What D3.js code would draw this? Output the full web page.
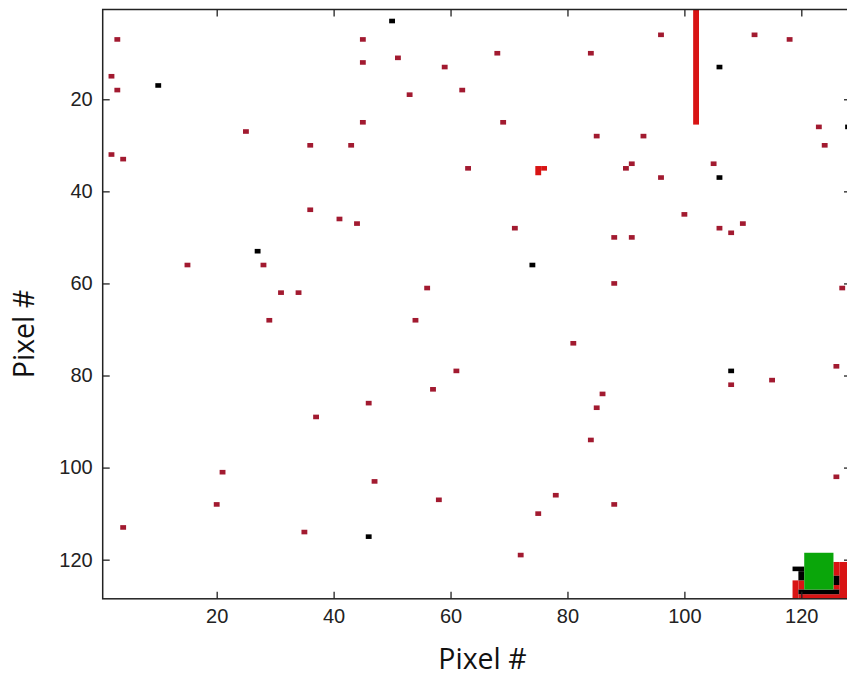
<!DOCTYPE html>
<html>
<head>
<meta charset="utf-8">
<script src="https://cdn.jsdelivr.net/npm/d3@7"></script>
<style>
  html, body { margin: 0; padding: 0; background: #fff; }
  svg { display: block; }
  .tick text { font-family: "Liberation Sans", Arial, sans-serif; font-size: 20px; fill: #222; }
  .axis-title { font-family: "Open Sans", "Noto Sans", sans-serif; font-size: 28.5px; fill: #111; }
</style>
</head>
<body>
<svg id="chart" width="847" height="677"></svg>
<script>
// Pixel map of a 128 x 128 detector frame, one entry per flagged pixel [column, row].
const gridSize = 128;
const xTicks = [20, 40, 60, 80, 100, 120];
const yTicks = [20, 40, 60, 80, 100, 120];

// isolated flagged pixels (dark red)
const hotPixels = [
  [3,7],[2,15],[3,18],[25,27],[2,32],[4,33],
  [45,7],[45,12],[51,11],[59,13],[68,10],[84,10],[53,19],[62,18],[45,25],[69,25],[85,28],[36,30],[43,30],[63,35],
  [96,6],[112,6],[118,7],[123,26],[124,30],[93,28],[91,34],[90,35],[96,37],[105,34],
  [15,56],[28,56],[31,62],[34,62],[29,68],
  [36,44],[41,46],[44,47],[71,48],[56,61],[54,68],[81,73],[61,79],[57,83],[86,84],[46,86],
  [100,45],[88,50],[91,50],[106,48],[108,49],[110,47],[88,60],[127,61],[108,82],[115,81],[126,78],
  [21,101],[20,108],[4,113],[35,114],
  [37,89],[85,87],[84,94],[47,103],[58,107],[75,110],[78,106],[72,119],
  [88,108],[126,102]
];

// dead pixels (black)
const deadPixels = [
  [10,17],[50,3],[106,13],[106,37],[128,26],[27,53],[74,56],[108,79],[46,115]
];

// pixel blocks [x0, x1, y0, y1], inclusive
const brightBlocks = [
  [102,102,1,25],[75,75,35,36],[76,76,35,35],
  [119,119,125,128],[120,120,125,126],[120,128,128,128],
  [126,126,121,123],[126,126,126,126],[127,128,121,128]
];
const darkBlocks = [
  [119,120,122,122],[120,120,123,124],[120,126,127,127],[126,126,124,125]
];
const greenBlocks = [
  [121,125,119,126]
];

const svg = d3.select("#chart");
const plotLeft = 102.7, plotRight = 851, plotTop = 9.5, plotBottom = 598.8;

const x = d3.scaleLinear().domain([0.5, gridSize + 0.5]).range([plotLeft, plotRight]);
const y = d3.scaleLinear().domain([0.5, gridSize + 0.5]).range([plotTop, plotBottom]);

const plot = svg.append("g");

function drawPixels(list, color) {
  plot.selectAll(null).data(list).enter().append("rect")
    .attr("x", d => x(d[0] - 0.5))
    .attr("y", d => y(d[1] - 0.5))
    .attr("width", d => x(d[0] + 0.5) - x(d[0] - 0.5))
    .attr("height", d => y(d[1] + 0.5) - y(d[1] - 0.5))
    .attr("fill", color);
}
function drawBlocks(list, color) {
  plot.selectAll(null).data(list).enter().append("rect")
    .attr("x", d => x(d[0] - 0.5))
    .attr("y", d => y(d[2] - 0.5))
    .attr("width", d => x(d[1] + 0.5) - x(d[0] - 0.5))
    .attr("height", d => y(d[3] + 0.5) - y(d[2] - 0.5))
    .attr("fill", color);
}

drawPixels(hotPixels, "#a21a30");
drawPixels(deadPixels, "#000");
drawBlocks(brightBlocks, "#d81414");
drawBlocks(darkBlocks, "#000");
drawBlocks(greenBlocks, "#0aa60a");

// axes on all four sides, ticks pointing inward
const tickLen = 7;
const axisColor = "#222";

const gB = svg.append("g").attr("transform", `translate(0,${plotBottom})`)
  .call(d3.axisBottom(x).tickValues(xTicks).tickSizeInner(-tickLen).tickSizeOuter(0).tickPadding(10));
const gT = svg.append("g").attr("transform", `translate(0,${plotTop})`)
  .call(d3.axisTop(x).tickValues(xTicks).tickSizeInner(-tickLen).tickSizeOuter(0).tickFormat(""));
const gL = svg.append("g").attr("transform", `translate(${plotLeft},0)`)
  .call(d3.axisLeft(y).tickValues(yTicks).tickSizeInner(-tickLen).tickSizeOuter(0).tickPadding(10));
const gR = svg.append("g").attr("transform", `translate(${plotRight},0)`)
  .call(d3.axisRight(y).tickValues(yTicks).tickSizeInner(-tickLen).tickSizeOuter(0).tickFormat(""));

[gB, gT, gL, gR].forEach(g => {
  g.select(".domain").remove();
  g.selectAll(".tick line").attr("stroke", axisColor).attr("stroke-width", 1.3);
});

svg.append("rect")
  .attr("x", plotLeft).attr("y", plotTop)
  .attr("width", plotRight - plotLeft).attr("height", plotBottom - plotTop)
  .attr("fill", "none").attr("stroke", axisColor).attr("stroke-width", 1.5);

svg.append("text").attr("class", "axis-title")
  .attr("x", 482.5).attr("y", 669)
  .attr("text-anchor", "middle")
  .text("Pixel #");

svg.append("text").attr("class", "axis-title")
  .attr("transform", "translate(33.5,334) rotate(-90)")
  .attr("text-anchor", "middle")
  .text("Pixel #");
</script>
</body>
</html>
